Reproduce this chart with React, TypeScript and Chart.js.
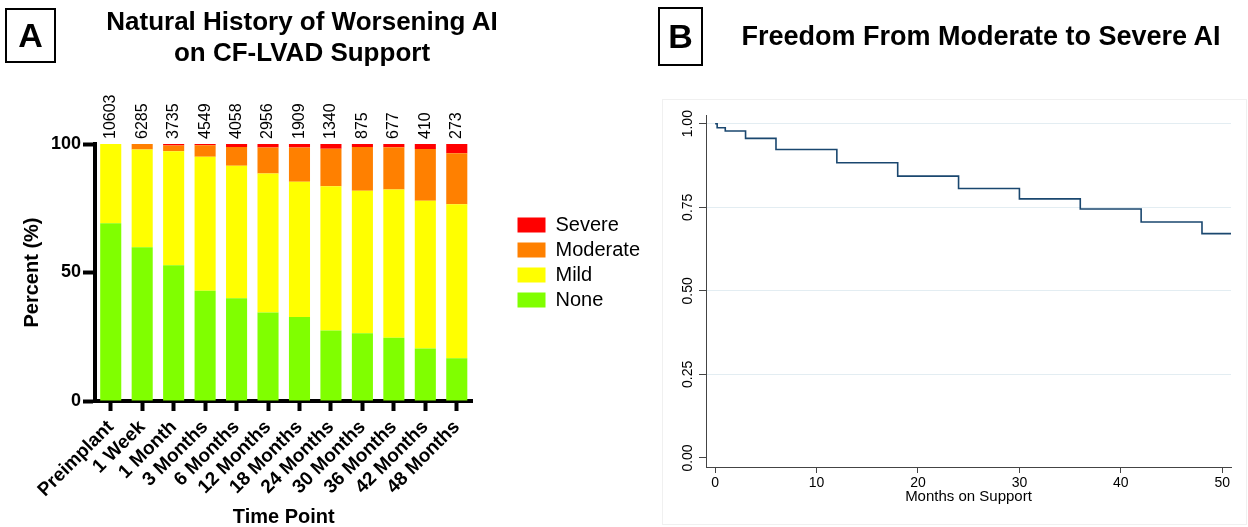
import React, { useEffect, useRef } from 'react';
import { Chart, registerables } from 'chart.js';

Chart.register(...registerables);

const FONT = '"Liberation Sans", Arial, Helvetica, sans-serif';

// ---------- Panel A data ----------
const timePoints = [
  'Preimplant', '1 Week', '1 Month', '3 Months', '6 Months', '12 Months',
  '18 Months', '24 Months', '30 Months', '36 Months', '42 Months', '48 Months',
];
const patientCounts = [10603, 6285, 3735, 4549, 4058, 2956, 1909, 1340, 875, 677, 410, 273];
const nonePct = [69.2, 59.8, 52.8, 42.9, 40.0, 34.4, 32.7, 27.4, 26.4, 24.6, 20.4, 16.6];
const mildPct = [30.8, 38.1, 44.4, 52.1, 51.5, 54.1, 52.6, 56.2, 55.4, 57.7, 57.5, 60.0];
const moderatePct = [0, 2.1, 2.2, 4.5, 7.3, 10.1, 13.3, 14.6, 17.0, 16.4, 20.2, 19.8];
const severePct = [0, 0, 0.6, 0.5, 1.2, 1.4, 1.4, 1.8, 1.2, 1.3, 1.9, 3.6];
const percentTicks = [0, 50, 100];

// ---------- Panel B data ----------
const kmMonths = [0, 0.2, 1, 3, 6, 12, 18, 24, 30, 36, 42, 48, 50.9];
const kmSurvival = [1, 0.988, 0.978, 0.956, 0.923, 0.883, 0.843, 0.806, 0.775, 0.745, 0.706, 0.671, 0.671];
const monthTicks = [0, 10, 20, 30, 40, 50];
const survivalTicks = [0, 0.25, 0.5, 0.75, 1];

const countsPlugin = {
  id: 'barCounts',
  afterDatasetsDraw(chart: any) {
    const { ctx, scales } = chart;
    const x = scales.x;
    const y = scales.y;
    ctx.save();
    ctx.font = `16px ${FONT}`;
    ctx.fillStyle = '#000';
    ctx.textAlign = 'left';
    ctx.textBaseline = 'middle';
    patientCounts.forEach((n, i) => {
      const px = x.getPixelForValue(i);
      const py = y.getPixelForValue(100) - 5;
      ctx.save();
      ctx.translate(px, py);
      ctx.rotate(-Math.PI / 2);
      ctx.fillText(String(n), 0, 0);
      ctx.restore();
    });
    ctx.restore();
  },
};

const legendPlacer = {
  id: 'legendPlacer',
  afterLayout(chart: any, _args: any, opts: any) {
    const lg = chart.legend;
    if (!lg) return;
    const w = lg.width;
    const area = chart.chartArea;
    lg.left = area.right + (opts.dx || 0);
    lg.right = lg.left + w;
    lg.top = area.top + (opts.dy || 0);
    lg.bottom = area.bottom + (opts.dy || 0);
  },
};

function PanelA() {
  const ref = useRef<HTMLCanvasElement>(null);
  useEffect(() => {
    if (!ref.current) return;
    const chart = new Chart(ref.current, {
      type: 'bar',
      data: {
        labels: timePoints,
        datasets: [
          { label: 'None', data: nonePct, backgroundColor: '#80FF00' },
          { label: 'Mild', data: mildPct, backgroundColor: '#FFFF00' },
          { label: 'Moderate', data: moderatePct, backgroundColor: '#FF8000' },
          { label: 'Severe', data: severePct, backgroundColor: '#FF0000' },
        ],
      },
      plugins: [countsPlugin, legendPlacer],
      options: {
        responsive: false,
        animation: false,
        layout: { padding: { left: 0, top: 144, right: 50, bottom: 0 } },
        datasets: { bar: { barPercentage: 0.67, categoryPercentage: 1, borderWidth: 0 } },
        plugins: {
          title: { display: false },
          tooltip: { enabled: false },
          legendPlacer: { dx: 40, dy: -10 },
          legend: {
            display: true,
            position: 'right',
            reverse: true,
            labels: {
              boxWidth: 28,
              boxHeight: 15,
              padding: 5,
              color: '#000',
              font: { family: FONT, size: 20 },
            },
          },
        } as any,
        scales: {
          x: {
            stacked: true,
            afterFit(s: any) { s.height = 126; },
            grid: { drawOnChartArea: false, offset: false, tickLength: 10, tickWidth: 4, tickColor: '#000' },
            border: { color: '#000', width: 4 },
            ticks: {
              autoSkip: false,
              minRotation: 45,
              maxRotation: 45,
              padding: 5,
              color: '#000',
              font: { family: FONT, size: 19, weight: 'bold' },
            },
            title: {
              display: true,
              text: 'Time Point',
              color: '#000',
              font: { family: FONT, size: 20, weight: 'bold' },
              padding: { top: 0, bottom: -2 },
            },
          },
          y: {
            stacked: true,
            min: 0,
            max: 100,
            afterFit(s: any) { s.width = 95; },
            afterBuildTicks(s: any) { s.ticks = percentTicks.map((v) => ({ value: v })); },
            grid: { drawOnChartArea: false, tickLength: 12, tickWidth: 4, tickColor: '#000' },
            border: { color: '#000', width: 4 },
            ticks: {
              padding: 2,
              color: '#000',
              font: { family: FONT, size: 18, weight: 'bold' },
            },
            title: {
              display: true,
              text: 'Percent (%)',
              color: '#000',
              font: { family: FONT, size: 20, weight: 'bold' },
              padding: { top: 20, bottom: 0 },
            },
          },
        },
      } as any,
    });
    return () => chart.destroy();
  }, []);
  return <canvas ref={ref} width={660} height={527} style={{ position: 'absolute', left: 0, top: 0 }} />;
}

function PanelB() {
  const ref = useRef<HTMLCanvasElement>(null);
  useEffect(() => {
    if (!ref.current) return;
    const chart = new Chart(ref.current, {
      type: 'line',
      data: {
        datasets: [
          {
            label: 'Freedom from moderate to severe AI',
            data: kmMonths.map((m, i) => ({ x: m, y: kmSurvival[i] })),
            borderColor: '#1a476f',
            borderWidth: 1.6,
            pointRadius: 0,
            stepped: true,
            fill: false,
          },
        ],
      },
      options: {
        responsive: false,
        animation: false,
        layout: { padding: { left: 0, top: 115, right: 17, bottom: 0 } },
        plugins: { legend: { display: false }, tooltip: { enabled: false } },
        scales: {
          x: {
            type: 'linear',
            min: -0.9,
            max: 50.86,
            afterFit(s: any) { s.height = 60; },
            afterBuildTicks(s: any) { s.ticks = monthTicks.map((v) => ({ value: v })); },
            grid: { drawOnChartArea: false, tickLength: 6, tickColor: '#444' },
            border: { color: '#444', width: 1 },
            ticks: { maxRotation: 0, padding: 2, color: '#000', font: { family: FONT, size: 14 } },
            title: {
              display: true,
              text: 'Months on Support',
              color: '#000',
              font: { family: FONT, size: 15 },
              padding: { top: 0, bottom: 21 },
            },
          },
          y: {
            type: 'linear',
            min: -0.027,
            max: 1.026,
            afterFit(s: any) { s.width = 46; },
            afterBuildTicks(s: any) { s.ticks = survivalTicks.map((v) => ({ value: v })); },
            grid: {
              color: (c: any) => (c.tick && c.tick.value === 0 ? 'rgba(0,0,0,0)' : '#e3edf2'),
              tickColor: '#444',
              tickLength: 7,
            },
            border: { color: '#444', width: 1 },
            ticks: {
              minRotation: 90,
              maxRotation: 90,
              crossAlign: 'center',
              padding: -3,
              color: '#000',
              font: { family: FONT, size: 14 },
              callback: (v: any) => Number(v).toFixed(2),
            },
          },
        },
      } as any,
    });
    return () => chart.destroy();
  }, []);
  return <canvas ref={ref} width={588} height={527} style={{ position: 'absolute', left: 660, top: 0 }} />;
}

export default function App() {
  const boxStyle: React.CSSProperties = {
    position: 'absolute',
    boxSizing: 'border-box',
    border: '2px solid #000',
    display: 'flex',
    alignItems: 'center',
    justifyContent: 'center',
    fontWeight: 'bold',
    fontSize: 34,
    color: '#000',
  };
  return (
    <div style={{ position: 'absolute', left: 0, top: 0, width: 1248, height: 527, background: '#fff', fontFamily: FONT, overflow: 'hidden' }}>
      <div style={{ position: 'absolute', left: 662, top: 99, width: 585, height: 426, boxSizing: 'border-box', border: '1px solid #f0f0f0' }} />
      <PanelA />
      <PanelB />
      <div style={{ ...boxStyle, left: 5, top: 8, width: 51, height: 55 }}>A</div>
      <div style={{ ...boxStyle, left: 658, top: 7, width: 45, height: 59 }}>B</div>
      <div style={{ position: 'absolute', left: 0, top: 6, width: 604, textAlign: 'center', fontWeight: 'bold', fontSize: 26, lineHeight: '31px', color: '#000' }}>
        Natural History of Worsening AI
        <br />
        on CF-LVAD Support
      </div>
      <div style={{ position: 'absolute', left: 712, top: 21, width: 538, textAlign: 'center', fontWeight: 'bold', fontSize: 27, lineHeight: '31px', color: '#000' }}>
        Freedom From Moderate to Severe AI
      </div>
    </div>
  );
}
